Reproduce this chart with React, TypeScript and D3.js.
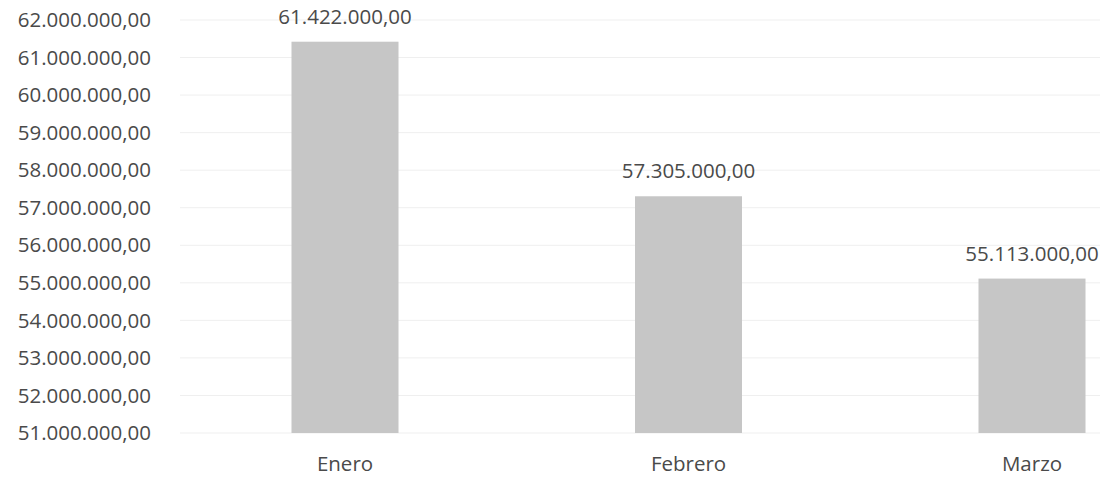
import React from "react";
import * as d3 from "d3";

const categories = ["Enero", "Febrero", "Marzo"];
const values = [61422000, 57305000, 55113000];
const yTicks = [51000000, 52000000, 53000000, 54000000, 55000000, 56000000, 57000000, 58000000, 59000000, 60000000, 61000000, 62000000];

const W = 1106;
const H = 478;

const fmt = (v: number) => {
  const fixed = v.toFixed(2);
  const [intPart, dec] = fixed.split(".");
  const withDots = intPart.replace(/\B(?=(\d{3})+(?!\d))/g, ".");
  return `${withDots},${dec}`;
};

export default function App() {
  const y = d3.scaleLinear().domain([51000000, 62000000]).range([433, 20]);
  const x = d3
    .scaleBand<string>()
    .domain(categories)
    .range([173.25, 1203.75])
    .paddingInner(0.6885)
    .paddingOuter(0.34425);

  const font = "'Open Sans', 'Noto Sans', sans-serif";
  const textColor = "#4a4a4a";

  return (
    <svg
      width={W}
      height={H}
      style={{ position: "absolute", left: 0, top: 0, background: "#fff" }}
      fontFamily={font}
    >
      <rect x={0} y={0} width={W} height={H} fill="#ffffff" />
      {yTicks.map((t) => (
        <line
          key={"g" + t}
          x1={180}
          x2={1100}
          y1={y(t)}
          y2={y(t)}
          stroke="#efefef"
          strokeWidth={1}
        />
      ))}
      {yTicks.map((t) => (
        <text
          key={"t" + t}
          x={151}
          y={y(t)}
          dy="0.35em"
          textAnchor="end"
          fontSize={20.5}
          fill={textColor}
        >
          {fmt(t)}
        </text>
      ))}
      {categories.map((c, i) => {
        const bx = x(c)!;
        const bw = x.bandwidth();
        const top = y(values[i]);
        return (
          <g key={c}>
            <rect x={bx} y={top} width={bw} height={y(51000000) - top} fill="#c6c6c6" />
            <text
              x={bx + bw / 2}
              y={top - 18}
              textAnchor="middle"
              fontSize={20.5}
              fill={textColor}
            >
              {fmt(values[i])}
            </text>
            <text
              x={bx + bw / 2}
              y={471}
              textAnchor="middle"
              fontSize={20.5}
              fill={textColor}
            >
              {c}
            </text>
          </g>
        );
      })}
    </svg>
  );
}
